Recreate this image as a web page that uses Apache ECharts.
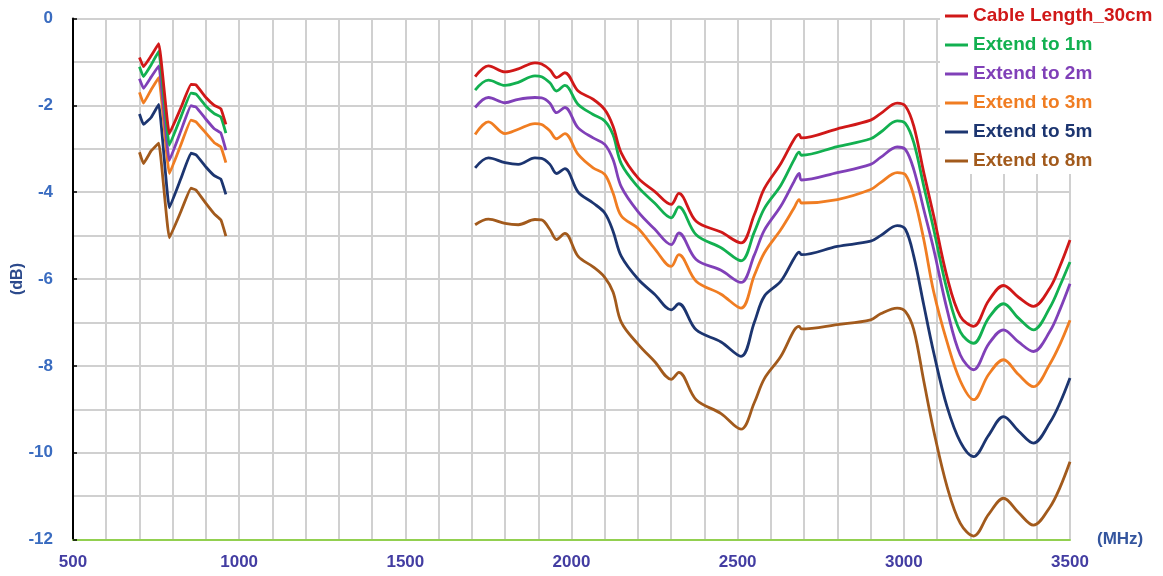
<!DOCTYPE html>
<html>
<head>
<meta charset="utf-8">
<title>Cable length insertion loss</title>
<script src="https://cdn.jsdelivr.net/npm/echarts@6/dist/echarts.min.js"></script>
<style>
  html, body { margin: 0; padding: 0; background: #fff; }
  #chart { width: 1163px; height: 576px; }
</style>
</head>
<body>
<div id="chart"></div>
<script>
// Series names shown in the legend
const seriesNames = ['Cable Length_30cm', 'Extend to 1m', 'Extend to 2m', 'Extend to 3m', 'Extend to 5m', 'Extend to 8m'];
const seriesColors = ['#d01818', '#12b050', '#8040b8', '#f07d22', '#1c3570', '#a25a1c'];

// Low band (MHz) and loss (dB)
const freqLow = [700, 712, 735, 758, 790, 825, 855, 870, 900, 925, 945, 960];
const cable30Low = [-0.90, -1.11, -0.86, -0.58, -2.65, -2.05, -1.52, -1.53, -1.82, -2.00, -2.08, -2.44];
const ext1Low    = [-1.11, -1.34, -1.07, -0.76, -2.92, -2.26, -1.72, -1.74, -2.02, -2.19, -2.27, -2.64];
const ext2Low    = [-1.39, -1.61, -1.35, -1.09, -3.27, -2.58, -2.01, -2.04, -2.32, -2.54, -2.64, -3.03];
const ext3Low    = [-1.70, -1.95, -1.64, -1.36, -3.57, -2.90, -2.34, -2.38, -2.64, -2.86, -2.96, -3.32];
const ext5Low    = [-2.20, -2.44, -2.28, -1.98, -4.36, -3.68, -3.10, -3.14, -3.42, -3.62, -3.70, -4.05];
const ext8Low    = [-3.08, -3.34, -3.05, -2.87, -5.05, -4.44, -3.91, -3.95, -4.26, -4.50, -4.64, -5.01];

// High band (MHz) and loss (dB)
const freqHigh = [1710, 1750, 1800, 1840, 1890, 1910, 1935, 1955, 1980, 2020, 2065, 2100, 2125, 2150, 2200, 2250, 2300, 2323, 2375, 2450, 2510, 2550, 2580, 2630, 2670, 2685, 2692, 2800, 2900, 2930, 2980, 3005, 3030, 3060, 3090, 3130, 3170, 3210, 3255, 3300, 3345, 3390, 3440, 3470, 3500];
const cable30High = [-1.34, -1.09, -1.23, -1.16, -1.02, -1.05, -1.18, -1.36, -1.25, -1.67, -1.86, -2.10, -2.48, -3.10, -3.67, -3.98, -4.28, -4.03, -4.67, -4.92, -5.17, -4.52, -3.92, -3.34, -2.78, -2.67, -2.75, -2.54, -2.34, -2.19, -1.95, -2.02, -2.48, -3.55, -4.55, -5.95, -6.86, -7.09, -6.50, -6.15, -6.42, -6.63, -6.20, -5.70, -5.10];
const ext1High = [-1.65, -1.42, -1.54, -1.47, -1.32, -1.34, -1.48, -1.67, -1.54, -1.98, -2.21, -2.36, -2.68, -3.35, -3.88, -4.25, -4.59, -4.34, -4.98, -5.28, -5.58, -4.92, -4.38, -3.84, -3.25, -3.08, -3.15, -2.95, -2.77, -2.62, -2.36, -2.42, -2.86, -3.86, -4.86, -6.25, -7.22, -7.48, -6.90, -6.57, -6.90, -7.17, -6.65, -6.15, -5.61];
const ext2High = [-2.05, -1.82, -1.94, -1.86, -1.82, -1.83, -1.95, -2.17, -2.05, -2.52, -2.75, -2.90, -3.25, -3.88, -4.45, -4.85, -5.21, -4.94, -5.55, -5.80, -6.08, -5.45, -4.88, -4.32, -3.75, -3.57, -3.72, -3.55, -3.36, -3.20, -2.96, -3.02, -3.48, -4.40, -5.32, -6.70, -7.75, -8.09, -7.50, -7.17, -7.45, -7.67, -7.20, -6.70, -6.11];
const ext3High = [-2.67, -2.38, -2.65, -2.55, -2.42, -2.44, -2.59, -2.77, -2.65, -3.13, -3.44, -3.59, -4.02, -4.55, -4.83, -5.30, -5.71, -5.44, -6.05, -6.35, -6.67, -5.92, -5.40, -4.86, -4.36, -4.17, -4.25, -4.17, -3.94, -3.78, -3.55, -3.60, -4.09, -5.09, -6.30, -7.45, -8.35, -8.78, -8.20, -7.86, -8.20, -8.48, -7.95, -7.50, -6.95];
const ext5High = [-3.44, -3.21, -3.32, -3.36, -3.21, -3.22, -3.36, -3.57, -3.46, -4.00, -4.25, -4.48, -4.90, -5.48, -6.00, -6.35, -6.71, -6.57, -7.17, -7.45, -7.78, -7.00, -6.40, -6.05, -5.52, -5.38, -5.44, -5.25, -5.13, -5.00, -4.77, -4.86, -5.48, -6.60, -7.70, -8.94, -9.75, -10.09, -9.60, -9.17, -9.50, -9.78, -9.30, -8.85, -8.28];
const ext8High = [-4.75, -4.62, -4.72, -4.75, -4.63, -4.64, -4.86, -5.09, -4.95, -5.48, -5.72, -5.96, -6.30, -7.00, -7.50, -7.90, -8.31, -8.15, -8.78, -9.10, -9.46, -8.85, -8.30, -7.78, -7.18, -7.09, -7.15, -7.05, -6.94, -6.80, -6.67, -6.75, -7.17, -8.35, -9.50, -10.78, -11.63, -11.92, -11.42, -11.05, -11.38, -11.67, -11.25, -10.80, -10.21];

const lowBand = [cable30Low, ext1Low, ext2Low, ext3Low, ext5Low, ext8Low];
const highBand = [cable30High, ext1High, ext2High, ext3High, ext5High, ext8High];

const pairs = (xs, ys) => xs.map((x, i) => [x, ys[i]]);

const FONT = '"Liberation Sans", Arial, sans-serif';
const series = [];
seriesNames.forEach((name, k) => {
  const common = {
    name, type: 'line', symbol: 'none',
    lineStyle: { color: seriesColors[k], width: 2.8 },
    itemStyle: { color: seriesColors[k] },
    z: 10 - k
  };
  series.push(Object.assign({}, common, { data: pairs(freqLow, lowBand[k]), smooth: 0.1 }));
  series.push(Object.assign({}, common, { data: pairs(freqHigh, highBand[k]), smooth: 0.35 }));
});

const chart = echarts.init(document.getElementById('chart'), null, { renderer: 'canvas' });
chart.setOption({
  animation: false,
  backgroundColor: '#ffffff',
  grid: { left: 73, right: 93, top: 18.5, bottom: 36.5, containLabel: false, outerBoundsMode: 'none' },
  legend: {
    orient: 'vertical',
    left: 940, top: 0,
    backgroundColor: '#ffffff',
    padding: [6, 10, 3, 5],
    icon: 'rect',
    itemWidth: 23, itemHeight: 3,
    itemGap: 9,
    textStyle: { fontFamily: FONT, fontSize: 19, fontWeight: 'bold', lineHeight: 20 },
    data: seriesNames.map((n, k) => ({ name: n, textStyle: { color: seriesColors[k] } }))
  },
  xAxis: {
    type: 'value', min: 500, max: 3500, interval: 500,
    name: '(MHz)', nameLocation: 'end', nameGap: 27,
    nameTextStyle: { fontFamily: FONT, fontSize: 17, fontWeight: 'bold', color: '#34559e', padding: [0, 0, 6, 0] },
    axisLine: { onZero: false, lineStyle: { color: '#92d050', width: 2 } },
    axisTick: { show: false },
    minorTick: { show: false, splitNumber: 5 },
    splitLine: { show: true, lineStyle: { color: '#d0d0d0', width: 2 } },
    minorSplitLine: { show: true, lineStyle: { color: '#d0d0d0', width: 2 } },
    axisLabel: { fontFamily: FONT, fontSize: 17, fontWeight: 'bold', color: '#433da2', margin: 14, formatter: v => String(v) }
  },
  yAxis: {
    type: 'value', min: -12, max: 0, interval: 2,
    name: '(dB)', nameLocation: 'middle', nameGap: 47, nameRotate: 90, nameMoveOverlap: false,
    nameTextStyle: { fontFamily: FONT, fontSize: 16, fontWeight: 'bold', color: '#2c4a8c' },
    axisLine: { onZero: false, lineStyle: { color: '#000000', width: 2 } },
    axisTick: { show: true, inside: true, length: 4, lineStyle: { color: '#000000', width: 1.5 } },
    minorTick: { show: false, splitNumber: 2 },
    splitLine: { show: true, lineStyle: { color: '#d0d0d0', width: 2 } },
    minorSplitLine: { show: true, lineStyle: { color: '#d0d0d0', width: 2 } },
    axisLabel: { fontFamily: FONT, fontSize: 17, fontWeight: 'bold', color: '#3a6cc0', margin: 20, formatter: v => String(v) }
  },
  series
});
</script>
</body>
</html>
